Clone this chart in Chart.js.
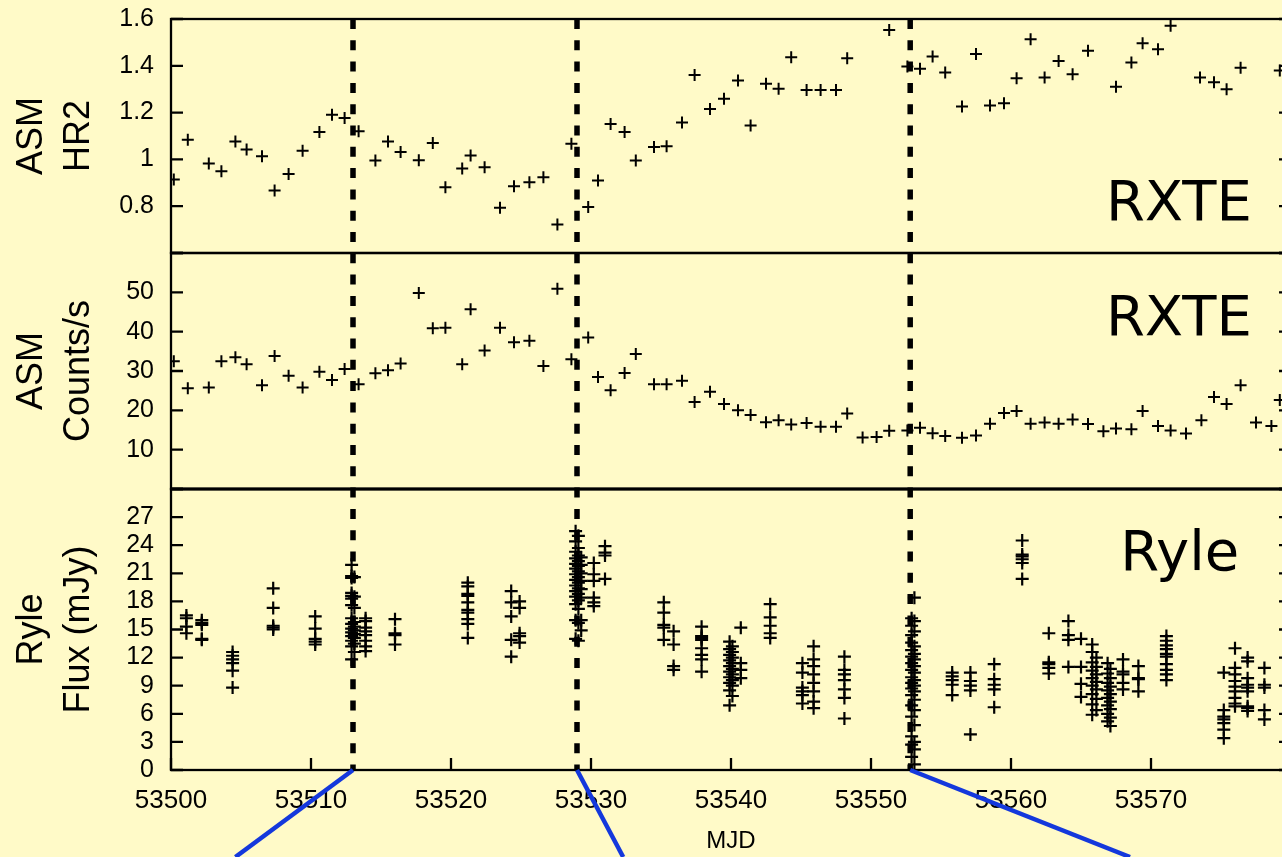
<!DOCTYPE html>
<html>
<head>
<meta charset="utf-8">
<title>GRS light curve</title>
<script src="https://cdn.jsdelivr.net/npm/chart.js@4.4.1/dist/chart.umd.min.js"></script>
<style>
    html, body { margin: 0; padding: 0; background: #fffac8; overflow: hidden; }
    #wrap { position: relative; width: 1282px; height: 857px; overflow: hidden; }
    canvas { display: block; }
</style>
</head>
<body>
<div id="wrap"><canvas id="lightCurve" width="1310" height="857"></canvas></div>
<script>
// ASM hardness ratio (HR2), one-day averages
const hrDays = [53500.2, 53501.2, 53502.7, 53503.6, 53504.6, 53505.4, 53506.5, 53507.4, 53508.4, 53509.4,
    53510.6, 53511.5, 53512.4, 53513.4, 53514.6, 53515.5, 53516.4, 53517.7, 53518.7, 53519.6,
    53520.8, 53521.4, 53522.4, 53523.5, 53524.5, 53525.6, 53526.6, 53527.6, 53528.6, 53529.8,
    53530.5, 53531.4, 53532.4, 53533.2, 53534.5, 53535.4, 53536.5, 53537.4, 53538.5, 53539.5,
    53540.5, 53541.4, 53542.5, 53543.4, 53544.3, 53545.4, 53546.4, 53547.5, 53548.3,
    53551.3, 53552.6, 53553.5, 53554.4, 53555.3, 53556.5, 53557.5, 53558.5, 53559.5, 53560.4,
    53561.4, 53562.4, 53563.4, 53564.4, 53565.5, 53567.5, 53568.6, 53569.4, 53570.5, 53571.4,
    53573.5, 53574.5, 53575.4, 53576.4, 53579.2];
const hrValues = [0.914, 1.084, 0.982, 0.949, 1.077, 1.042, 1.013, 0.867, 0.938, 1.037,
    1.117, 1.191, 1.177, 1.12, 0.995, 1.077, 1.032, 0.996, 1.07, 0.881,
    0.961, 1.017, 0.966, 0.793, 0.885, 0.902, 0.924, 0.722, 1.067, 0.797,
    0.91, 1.151, 1.117, 0.995, 1.053, 1.056, 1.158, 1.361, 1.215, 1.259,
    1.337, 1.145, 1.323, 1.302, 1.437, 1.297, 1.297, 1.297, 1.432,
    1.553, 1.397, 1.387, 1.44, 1.371, 1.226, 1.45, 1.23, 1.24, 1.347,
    1.513, 1.35, 1.421, 1.364, 1.464, 1.311, 1.414, 1.496, 1.471, 1.571,
    1.35, 1.33, 1.3, 1.392, 1.38];

// ASM count rate, one-day averages
const rateDays = [53500.2, 53501.2, 53502.7, 53503.6, 53504.6, 53505.4, 53506.5, 53507.4, 53508.4, 53509.4,
    53510.6, 53511.5, 53512.4, 53513.4, 53514.6, 53515.5, 53516.4, 53517.7, 53518.7, 53519.6,
    53520.8, 53521.4, 53522.4, 53523.5, 53524.5, 53525.6, 53526.6, 53527.6, 53528.6, 53529.8,
    53530.5, 53531.4, 53532.4, 53533.2, 53534.5, 53535.4, 53536.5, 53537.4, 53538.5, 53539.5,
    53540.5, 53541.4, 53542.5, 53543.4, 53544.3, 53545.4, 53546.4, 53547.5, 53548.3,
    53549.4, 53550.4, 53551.3, 53552.6, 53553.5, 53554.4, 53555.3, 53556.5, 53557.5, 53558.5,
    53559.5, 53560.4, 53561.4, 53562.4, 53563.4, 53564.4, 53565.5, 53566.6, 53567.5, 53568.6,
    53569.4, 53570.5, 53571.4, 53572.5, 53573.6, 53574.5, 53575.4, 53576.4, 53577.5, 53578.6,
    53579.2];
const rateValues = [32.5, 25.6, 25.8, 32.5, 33.5, 31.7, 26.4, 33.8, 28.8, 25.8,
    29.8, 27.7, 30.5, 26.6, 29.4, 30.2, 31.9, 49.8, 40.9, 41.0,
    31.7, 45.7, 35.2, 41.0, 37.3, 37.7, 31.3, 50.9, 33.0, 38.5,
    28.5, 25.1, 29.5, 34.3, 26.6, 26.6, 27.5, 22.1, 24.7, 21.6,
    20.0, 18.8, 17.0, 17.5, 16.4, 16.8, 15.8, 15.8, 19.2,
    13.1, 13.2, 14.8, 14.9, 15.6, 14.2, 13.5, 13.0, 13.6, 16.6,
    19.3, 19.8, 16.6, 16.9, 16.6, 17.7, 16.5, 14.7, 15.4, 15.2,
    19.8, 16.0, 14.9, 14.1, 17.5, 23.4, 21.6, 26.4, 16.9, 16.0,
    22.6];

// Ryle 15 GHz runs: one MJD per run, the flux samples of that run
const ryleDays = [53501.1, 53502.2, 53504.4, 53507.3, 53510.3, 53512.9, 53513.1, 53513.9, 53516.0,
    53521.2, 53524.3, 53524.9, 53528.9, 53529.1, 53529.3, 53530.2, 53531.0,
    53535.2, 53535.9, 53537.9, 53539.9, 53540.1, 53540.7, 53542.8, 53545.1, 53545.9, 53548.1,
    53552.9, 53553.1, 53555.8, 53557.1, 53558.8, 53560.8, 53562.7, 53564.1, 53565.0,
    53565.8, 53566.1, 53566.9, 53567.1, 53568.0, 53569.1, 53571.1,
    53575.2, 53576.0, 53576.9, 53578.1];
const ryleFlux = [
    [16.5, 16.2, 15.3, 14.6],
    [16.0, 15.7, 15.5, 14.0, 13.9],
    [12.6, 12.2, 11.8, 11.4, 10.6, 8.8],
    [19.4, 17.3, 15.4, 15.2, 15.0],
    [16.4, 15.1, 14.0, 13.7, 13.4],
    [21.9, 20.7, 20.5, 18.9, 18.6, 18.3, 17.6, 16.2, 15.6, 15.1, 14.7, 14.3, 13.8, 13.2, 11.8],
    [20.6, 18.5, 17.3, 15.8, 15.3, 14.9, 14.5, 14.1, 13.5, 12.6],
    [16.2, 15.9, 15.2, 14.8, 14.4, 13.8, 13.2, 12.7],
    [16.1, 14.6, 14.4, 13.4],
    [20.0, 19.6, 18.8, 18.6, 17.9, 17.1, 16.8, 16.1, 15.6, 14.1],
    [19.1, 17.9, 16.4, 13.9, 12.1],
    [18.0, 17.3, 14.6, 14.3, 13.6],
    [25.5, 24.4, 23.3, 22.6, 22.0, 21.5, 20.9, 20.3, 19.7, 19.1, 18.5, 17.7, 16.0, 14.0],
    [25.0, 23.7, 22.9, 22.3, 21.8, 21.2, 20.6, 20.0, 19.4, 18.8, 18.1, 17.2, 15.7, 13.8],
    [22.7, 21.9, 21.0, 20.2, 19.3, 18.4, 16.0, 14.9],
    [22.1, 20.9, 20.2, 18.4, 17.9, 17.5],
    [23.9, 23.2, 22.9, 20.4],
    [17.9, 16.8, 15.5, 15.2, 13.9],
    [14.8, 13.4, 11.1, 10.7],
    [15.3, 14.3, 14.1, 13.9, 13.0, 12.3, 11.8, 10.5],
    [13.7, 12.9, 12.3, 11.7, 11.1, 10.5, 9.9, 9.3, 8.5, 6.9],
    [13.2, 12.6, 12.0, 11.4, 10.8, 10.2, 9.6, 9.0, 7.9],
    [15.2, 11.4, 10.7, 9.8],
    [17.7, 16.3, 15.4, 14.6, 14.1],
    [11.4, 10.4, 8.8, 8.4, 8.0, 7.1],
    [13.2, 11.8, 11.1, 10.2, 9.3, 8.4, 7.3, 6.6],
    [12.1, 10.7, 10.2, 9.6, 8.6, 7.7, 5.5],
    [16.2, 15.4, 14.4, 13.6, 12.8, 12.1, 11.4, 10.7, 9.9, 9.3, 8.7, 8.0, 6.9, 5.7, 3.6, 2.7, 1.4],
    [18.4, 15.9, 14.8, 13.2, 12.4, 11.8, 11.1, 10.4, 9.6, 9.0, 8.4, 7.5, 6.4, 4.8, 3.0, 2.2, 0.6],
    [10.4, 10.0, 9.6, 9.1, 8.0],
    [10.4, 9.5, 9.0, 8.5, 3.8],
    [11.3, 9.7, 9.1, 8.6, 6.7],
    [24.5, 23.0, 22.8, 22.5, 22.1, 20.4],
    [14.6, 11.5, 11.3, 10.9, 10.3],
    [15.9, 14.4, 13.9, 11.0],
    [14.0, 11.0, 9.2, 7.8],
    [13.4, 12.6, 11.5, 10.6, 9.8, 9.0, 8.1, 7.0, 5.9],
    [12.0, 11.0, 10.2, 9.4, 8.6, 7.6, 6.4],
    [11.4, 10.3, 9.3, 8.5, 7.7, 6.9, 6.0, 5.2],
    [10.8, 9.8, 8.9, 8.1, 7.3, 6.5, 5.6, 4.7],
    [11.8, 10.5, 10.2, 9.3, 8.6],
    [11.1, 9.8, 9.7, 8.4],
    [14.3, 13.8, 13.3, 12.9, 12.4, 12.1, 11.3, 10.7, 10.2, 9.6],
    [10.4, 6.4, 5.7, 5.4, 5.0, 4.3, 3.4],
    [13.0, 10.9, 10.2, 9.5, 8.9, 8.4, 7.7, 7.1, 6.8],
    [12.0, 11.6, 9.8, 9.1, 8.8, 8.4, 6.8, 6.6, 6.3],
    [10.9, 9.1, 8.8, 6.4, 5.4]
];

// epochs marked across all panels, and where their zoom connectors run off the bottom
const eventDays = [53513.0, 53529.0, 53552.8];
const connectorEnds = [53504.6, 53532.3, 53568.5];

const FONT = 'Liberation Sans, Arial, Helvetica, sans-serif';
const INK = '#000';

const points = (days, vals) => days.map((d, i) => ({ x: d, y: vals[i] }));
const rylePoints = ryleDays.flatMap((d, i) => ryleFlux[i].map(f => ({ x: d, y: f })));

const crossSet = (data, axis, radius, width) => ({
    data: data,
    yAxisID: axis,
    pointStyle: 'cross',
    pointRadius: radius,
    pointBorderWidth: width,
    pointBorderColor: INK,
    pointBackgroundColor: INK,
    showLine: false
});

// one vertically stacked panel sharing the MJD axis
const panelAxis = (order, size, min, max, step, title, shown) => ({
    type: 'linear',
    position: 'left',
    stack: 'mjd',
    stackWeight: size,
    weight: order,
    min: min,
    max: max,
    grid: { display: false, drawTicks: false },
    border: { display: false },
    ticks: {
        stepSize: step,
        autoSkip: false,
        padding: 17,
        color: INK,
        font: { family: FONT, size: 25 },
        callback: v => shown(v) ? String(+v.toFixed(1)) : ''
    },
    title: {
        display: true,
        text: title,
        color: INK,
        font: { family: FONT, size: 36, lineHeight: 1.3 },
        padding: { top: 9, bottom: 0 }
    },
    afterFit: s => {
        s.width = 171;
        // labels at the panel edges may overhang; keep the plot box fixed
        s.paddingTop = 0;
        s.paddingBottom = 0;
    }
});

// frames and inward tick marks of every panel
const panelFrames = {
    id: 'panelFrames',
    beforeDatasetsDraw(chart) {
        const { ctx, chartArea, scales } = chart;
        const w = chartArea.right - chartArea.left;
        ctx.save();
        ctx.strokeStyle = INK;
        ctx.lineWidth = 2.3;
        ['hr', 'rate', 'flux'].forEach(id => {
            const s = scales[id];
            ctx.strokeRect(chartArea.left, s.top, w, s.bottom - s.top);
            ctx.beginPath();
            s.ticks.forEach(t => {
                const y = s.getPixelForValue(t.value);
                ctx.moveTo(chartArea.left, y);
                ctx.lineTo(chartArea.left + 12, y);
                ctx.moveTo(chartArea.right, y);
                ctx.lineTo(chartArea.right - 12, y);
            });
            ctx.stroke();
        });
        ctx.beginPath();
        scales.x.ticks.forEach(t => {
            const x = scales.x.getPixelForValue(t.value);
            ctx.moveTo(x, chartArea.bottom);
            ctx.lineTo(x, chartArea.bottom - 12);
        });
        ctx.stroke();
        // heavier rule between the X-ray and radio panels
        ctx.lineWidth = 3.2;
        ctx.beginPath();
        ctx.moveTo(chartArea.left, scales.rate.bottom);
        ctx.lineTo(chartArea.right, scales.rate.bottom);
        ctx.stroke();
        ctx.restore();
    },
    afterDatasetsDraw(chart) {
        const { ctx, chartArea, scales } = chart;
        ctx.save();
        ctx.strokeStyle = INK;
        ctx.lineWidth = 5.5;
        ctx.setLineDash([10, 11.3]);
        eventDays.forEach(d => {
            const x = scales.x.getPixelForValue(d);
            ctx.beginPath();
            ctx.moveTo(x, chartArea.top);
            ctx.lineTo(x, chartArea.bottom);
            ctx.stroke();
        });
        ctx.restore();
    },
    afterDraw(chart) {
        const { ctx, chartArea, scales } = chart;
        ctx.save();
        ctx.strokeStyle = '#1438dc';
        ctx.lineWidth = 4.5;
        eventDays.forEach((d, i) => {
            ctx.beginPath();
            ctx.moveTo(scales.x.getPixelForValue(d), chartArea.bottom);
            ctx.lineTo(scales.x.getPixelForValue(connectorEnds[i]), chart.height);
            ctx.stroke();
        });

        // instrument labels inside the panels
        ctx.fillStyle = INK;
        ctx.font = '56px "DejaVu Sans", sans-serif';
        ctx.textAlign = 'right';
        ctx.textBaseline = 'alphabetic';
        ctx.fillText('RXTE', scales.x.getPixelForValue(53577.2), scales.hr.getPixelForValue(0.743));
        ctx.fillText('RXTE', scales.x.getPixelForValue(53577.2), scales.rate.getPixelForValue(39.2));
        ctx.fillText('Ryle', scales.x.getPixelForValue(53576.3), scales.flux.getPixelForValue(21.4));
        ctx.restore();
    }
};

new Chart(document.getElementById('lightCurve'), {
    type: 'scatter',
    data: {
        datasets: [
            crossSet(points(hrDays, hrValues), 'hr', 6, 2),
            crossSet(points(rateDays, rateValues), 'rate', 6, 2),
            crossSet(rylePoints, 'flux', 6.5, 2.2)
        ]
    },
    options: {
        responsive: false,
        animation: false,
        devicePixelRatio: 1,
        events: [],
        layout: { padding: { top: 19, right: 19, left: 0, bottom: 0 } },
        plugins: { legend: { display: false }, tooltip: { enabled: false } },
        scales: {
            x: {
                type: 'linear',
                position: 'bottom',
                min: 53500,
                max: 53580,
                grid: { display: false, drawTicks: false },
                border: { display: false },
                ticks: {
                    stepSize: 10,
                    autoSkip: false,
                    maxRotation: 0,
                    padding: 15,
                    color: INK,
                    font: { family: FONT, size: 26 },
                    callback: v => v < 53580 ? String(v) : ''
                },
                title: {
                    display: true,
                    text: 'MJD',
                    color: INK,
                    font: { family: FONT, size: 24 },
                    padding: { top: 0, bottom: 1 }
                },
                afterFit: s => { s.height = 87; }
            },
            hr: panelAxis(3, 234, 0.6, 1.6, 0.2, ['ASM', 'HR2'], v => v > 0.7),
            rate: panelAxis(2, 236, 0, 60, 10, ['ASM', 'Counts/s'], v => v > 0 && v < 60),
            flux: panelAxis(1, 281, 0, 30, 3, ['Ryle', 'Flux (mJy)'], v => v < 30)
        }
    },
    plugins: [panelFrames]
});
</script>
</body>
</html>
